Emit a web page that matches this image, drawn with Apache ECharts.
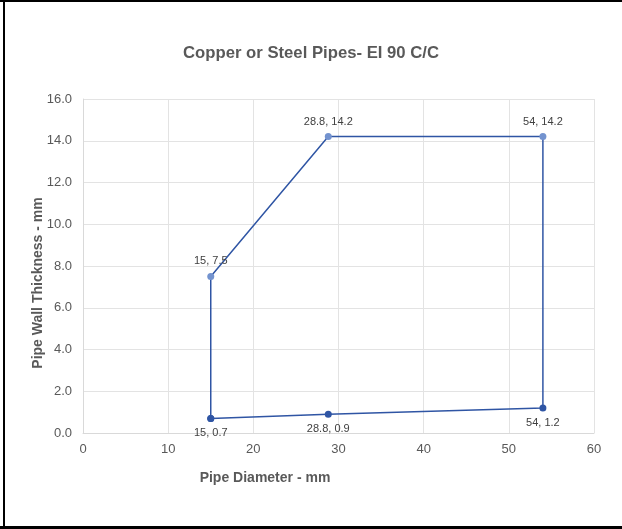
<!DOCTYPE html>
<html>
<head>
<meta charset="utf-8">
<script src="https://cdn.jsdelivr.net/npm/echarts@6/dist/echarts.min.js"></script>
<style>
html,body{margin:0;padding:0;background:#fff;}
#chart{width:622px;height:529px;}
</style>
</head>
<body>
<div id="chart"></div>
<script>
// Data (path order of the polygon)
var pipeDiameter = [15, 15, 28.8, 54, 54, 28.8, 15];
var wallThickness = [0.7, 7.5, 14.2, 14.2, 1.2, 0.9, 0.7];
var pointLabels = ['15, 0.7', '15, 7.5', '28.8, 14.2', '54, 14.2', '54, 1.2', '28.8, 0.9', ''];
var labelSide = ['bottom', 'top', 'top', 'top', 'bottom', 'bottom', 'bottom'];
var upperPoint = [false, true, true, true, false, false, false];

var xTicks = [0, 10, 20, 30, 40, 50, 60];
var yTicks = [0, 2, 4, 6, 8, 10, 12, 14, 16];

var darkBlue = '#2f55a4';
var lightBlue = '#7393cf';

var seriesData = pipeDiameter.map(function (x, i) {
  return {
    value: [x, wallThickness[i]],
    itemStyle: { color: upperPoint[i] ? lightBlue : darkBlue },
    label: {
      show: pointLabels[i] !== '',
      formatter: pointLabels[i],
      position: labelSide[i],
      distance: 6
    }
  };
});

var chart = echarts.init(document.getElementById('chart'));
chart.setOption({
  animation: false,
  backgroundColor: '#ffffff',
  title: {
    text: 'Copper or Steel Pipes- EI 90 C/C',
    left: 'center',
    top: 40,
    padding: [5, 0, 5, 7],
    textStyle: { fontFamily: 'Liberation Sans', fontSize: 16.7, fontWeight: 'bold', color: '#595959' }
  },
  grid: { left: 83, right: 28, top: 99, bottom: 96 },
  xAxis: {
    type: 'value',
    min: xTicks[0],
    max: xTicks[xTicks.length - 1],
    interval: 10,
    name: 'Pipe Diameter - mm',
    nameLocation: 'middle',
    nameGap: 38,
    nameMoveOverlap: false,
    nameTextStyle: { fontFamily: 'Liberation Sans', fontSize: 14, fontWeight: 'bold', color: '#595959', padding: [0, 147, 0, 0] },
    axisLine: { show: true, lineStyle: { color: '#d9d9d9' } },
    axisTick: { show: false },
    axisLabel: { fontFamily: 'Liberation Sans', fontSize: 13, color: '#595959', margin: 10 },
    splitLine: { show: true, lineStyle: { color: '#e3e3e3' } }
  },
  yAxis: {
    type: 'value',
    min: yTicks[0],
    max: yTicks[yTicks.length - 1],
    interval: 2,
    name: 'Pipe Wall Thickness - mm',
    nameLocation: 'middle',
    nameGap: 38,
    nameMoveOverlap: false,
    nameTextStyle: { fontFamily: 'Liberation Sans', fontSize: 14, fontWeight: 'bold', color: '#595959', padding: [0, 34, 0, 0] },
    axisLine: { show: true, lineStyle: { color: '#d9d9d9' } },
    axisTick: { show: false },
    axisLabel: {
      fontFamily: 'Liberation Sans', fontSize: 13, color: '#595959', margin: 11,
      formatter: function (v) { return v.toFixed(1); }
    },
    splitLine: { show: true, lineStyle: { color: '#e3e3e3' } }
  },
  series: [{
    type: 'line',
    data: seriesData,
    symbol: 'circle',
    symbolSize: 7,
    showAllSymbol: true,
    lineStyle: { color: darkBlue, width: 1.5 },
    label: { fontFamily: 'Liberation Sans', fontSize: 11, color: '#404040' },
    z: 3
  }],
  graphic: [
    { type: 'rect', left: 0, top: 0, shape: { width: 622, height: 2 }, style: { fill: '#000' }, silent: true },
    { type: 'rect', left: 3, top: 0, shape: { width: 2, height: 529 }, style: { fill: '#000' }, silent: true },
    { type: 'rect', left: 0, top: 526, shape: { width: 622, height: 3 }, style: { fill: '#000' }, silent: true }
  ]
});
</script>
</body>
</html>
